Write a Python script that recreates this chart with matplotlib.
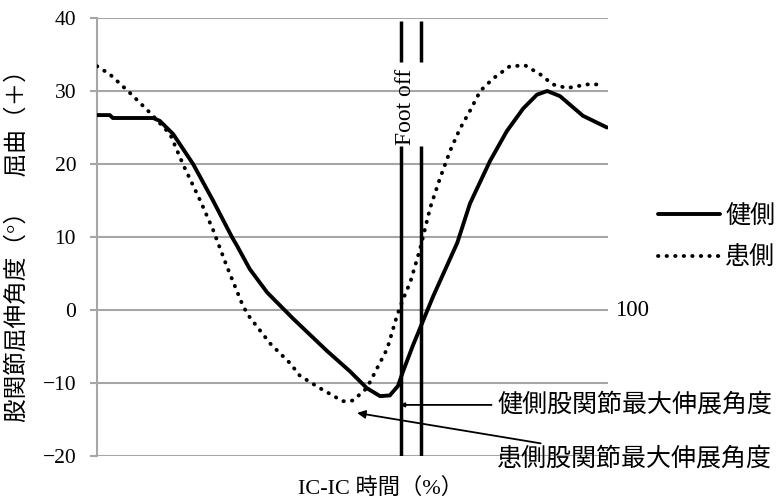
import numpy as np
import matplotlib
matplotlib.use("Agg")
import matplotlib.pyplot as plt

plt.rcParams['font.family'] = ['Liberation Serif', 'Noto Sans CJK JP']

# IC-IC time (%) and hip flexion/extension angle (deg)
healthy_x = [0, 2.5, 3.1, 11.0, 12.3, 14.9, 18.8, 22.7, 26.4, 27.4, 29.9, 33.3, 38.4, 45.0,
             49.5, 52.8, 55.4, 57.3, 58.9, 59.9, 61.8, 65.8, 70.5, 73.0, 76.9, 80.2, 83.4,
             86.1, 88.1, 90.6, 95.1, 99.8]
healthy_y = [26.7, 26.7, 26.3, 26.3, 25.9, 24.1, 20.0, 15.0, 10.0, 8.8, 5.6, 2.4, -1.2, -5.6,
             -8.4, -10.7, -11.8, -11.7, -10.4, -8.4, -4.9, 1.9, 9.2, 14.6, 20.4, 24.5, 27.6,
             29.5, 30.0, 29.3, 26.6, 25.0]

affected_x = [0, 2.5, 6.5, 10.4, 14.3, 16.8, 20.2, 22.7, 25.4, 28.6, 29.9, 33.9, 37.8, 39.7,
              43.6, 48.1, 50.1, 52.8, 54.8, 56.8, 58.7, 59.9, 61.3, 63.2, 65.2, 67.1, 69.1,
              71.0, 73.0, 75.0, 77.5, 80.8, 83.8, 86.7, 89.2, 92.0, 95.9, 99.0]
affected_y = [33.4, 32.3, 29.7, 27.0, 24.1, 20.0, 15.0, 11.0, 6.0, 0.5, -1.0, -4.6, -7.3, -9.0,
              -10.7, -12.5, -12.4, -10.7, -8.0, -5.3, -0.8, 1.5, 3.8, 8.3, 14.0, 18.0, 21.8,
              24.8, 27.3, 30.0, 31.7, 33.4, 33.5, 32.3, 30.9, 30.4, 30.9, 30.9]

labels = ['健側', '患側']
foot_off = [59.5, 63.4]
yticks = [-20, -10, 0, 10, 20, 30, 40]

fig = plt.figure(figsize=(7.78, 5.01), dpi=100)
ax = fig.add_axes([97 / 778, 45 / 501, 511 / 778, 438 / 501])

grey = '#a6a6a6'
for v in yticks:
    ax.axhline(v, color=grey, lw=1.5, zorder=1)

ax.plot(healthy_x, healthy_y, color='black', lw=2.8, label=labels[0], zorder=3,
        solid_capstyle='round')
ax.plot(affected_x, affected_y, color='black', lw=2.8, label=labels[1], zorder=3,
        linestyle=(0, (0.1, 2.1)), dash_capstyle='round')

# foot off lines, broken around the label
for fx in foot_off:
    ax.vlines(fx, 34.0, 39.6, color='black', lw=2.5, zorder=4)
    ax.vlines(fx, -20, 22.5, color='black', lw=2.5, zorder=4)
ax.text(60.4, 27.8, 'Foot off', rotation=90, ha='center', va='center', fontsize=17, zorder=5)

ax.set_xlim(0, 100)
ax.set_ylim(-20, 40)
ax.set_yticks(yticks)
ax.set_xticks([])
for s in ['top', 'right', 'bottom']:
    ax.spines[s].set_visible(False)
ax.spines['left'].set_color(grey)
ax.spines['left'].set_linewidth(1.5)
ax.tick_params(axis='y', colors=grey, length=5, width=1.5, pad=10, labelsize=15.5,
               labelcolor='black')
ax.text(101.3, 0, '100', ha='left', va='center', fontsize=16.5, clip_on=False)

ax.annotate('健側股関節最大伸展角度', xy=(59.3, -13.0), xytext=(78.3, -13.0),
            ha='left', va='center', fontsize=18, annotation_clip=False,
            arrowprops=dict(arrowstyle='-|>', color='black', lw=1.3, mutation_scale=6,
                            shrinkA=2, shrinkB=0))
ax.annotate('患側股関節最大伸展角度', xy=(50.9, -14.1), xytext=(78.3, -20.4),
            ha='left', va='center', fontsize=18, annotation_clip=False,
            arrowprops=dict(arrowstyle='-|>', color='black', lw=1.3, mutation_scale=12,
                            shrinkA=4, shrinkB=0))

fig.text(18 / 778, 1 - 240 / 501, '股関節屈伸角度（°）　屈曲（＋）', rotation=90,
         ha='center', va='center', fontsize=17)
fig.text(380 / 778, 1 - 488 / 501, 'IC-IC 時間（%）', ha='center', va='center', fontsize=16)

ax.legend(loc='center left', bbox_to_anchor=(645 / 778, 1 - 237 / 501),
          bbox_transform=fig.transFigure, frameon=False, fontsize=18,
          handlelength=2.5, handletextpad=0.2, labelspacing=0.75, borderpad=0)

fig.savefig('out.png', dpi=100)
